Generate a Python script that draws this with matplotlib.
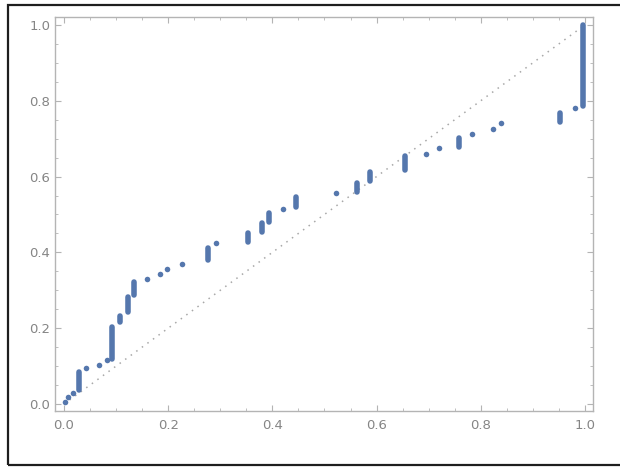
import matplotlib.pyplot as plt
from matplotlib.patches import Rectangle
from matplotlib.ticker import MultipleLocator, FormatStrFormatter

# single points of the P-P plot
pt_x = [0.002, 0.008, 0.017, 0.042, 0.068, 0.082, 0.159, 0.184, 0.197, 0.226,
        0.292, 0.421, 0.523, 0.695, 0.720, 0.784, 0.824, 0.838, 0.981]
pt_y = [0.005, 0.018, 0.029, 0.094, 0.103, 0.116, 0.329, 0.344, 0.355, 0.369,
        0.426, 0.514, 0.556, 0.660, 0.675, 0.713, 0.725, 0.741, 0.780]

# tied values -> vertical stacks of points (x, lowest y, highest y)
run_x = [0.029, 0.093, 0.107, 0.122, 0.134, 0.276, 0.354, 0.381, 0.394, 0.445,
         0.563, 0.587, 0.655, 0.759, 0.953, 0.997]
run_lo = [0.037, 0.120, 0.215, 0.244, 0.288, 0.380, 0.428, 0.455, 0.481, 0.521,
          0.560, 0.587, 0.617, 0.679, 0.745, 0.786]
run_hi = [0.085, 0.202, 0.232, 0.283, 0.323, 0.411, 0.452, 0.477, 0.505, 0.547,
          0.584, 0.613, 0.653, 0.702, 0.767, 1.000]

blue = '#5577AD'
frame = '#b4b4b4'

fig = plt.figure(figsize=(6.2, 4.68), dpi=100)
ax = fig.add_axes([0.0887, 0.1218, 0.8677, 0.8419])

# reference diagonal
ax.plot([0, 1], [0, 1], color='#a8a8a8', lw=1.1, linestyle=(0, (1, 3.5)))

for x, lo, hi in zip(run_x, run_lo, run_hi):
    ax.plot([x, x], [lo, hi], color=blue, lw=4.0, solid_capstyle='round')
ax.plot(pt_x, pt_y, 'o', color=blue, markersize=4.0, markeredgewidth=0)

ax.set_xlim(-0.0173, 1.0154)
ax.set_ylim(-0.0185, 1.021)

for a in (ax.xaxis, ax.yaxis):
    a.set_major_locator(MultipleLocator(0.2))
    a.set_minor_locator(MultipleLocator(0.05))
    a.set_major_formatter(FormatStrFormatter('%.1f'))

ax.tick_params(which='both', direction='in', top=True, right=True,
               color=frame, labelcolor='#858585', labelsize=9.5)
ax.tick_params(which='major', length=4, width=0.8)
ax.tick_params(which='minor', length=2, width=0.6)
ax.tick_params(axis='x', pad=6)
ax.tick_params(axis='y', pad=3.5)
for s in ax.spines.values():
    s.set_color(frame)
    s.set_linewidth(1.0)

# dark border round the picture (its right edge runs off the canvas)
fig.patches.append(Rectangle((8 / 620, 3 / 468), 620 / 620, 460 / 468,
                             transform=fig.transFigure, fill=False,
                             edgecolor='#1e1e1e', linewidth=1.6))

fig.savefig('out.png', dpi=100)
